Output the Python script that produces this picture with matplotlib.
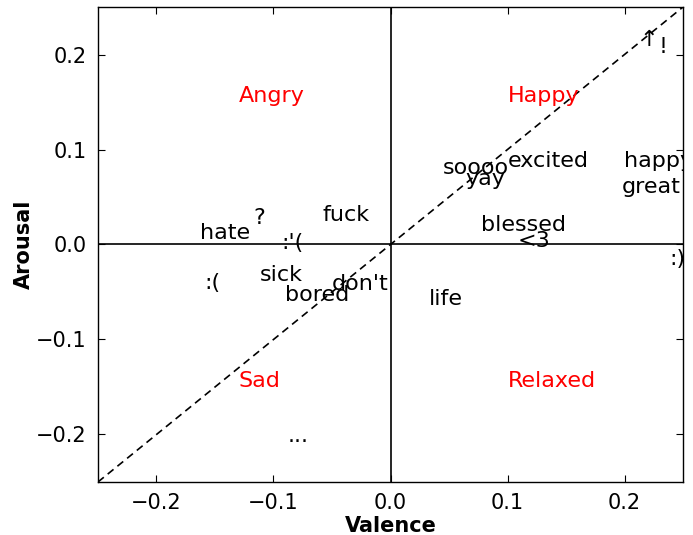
import matplotlib
matplotlib.use("Agg")
import matplotlib.pyplot as plt
import numpy as np

words = ["hate", "?", ":'(", "fuck", ":(", "sick", "bored", "don't", "life",
         "soooo", "yay", "excited", "happy", "great", "blessed", "<3", ":)",
         "\u2191", "!", "..."]
valence = [-0.141, -0.112, -0.084, -0.038, -0.152, -0.093, -0.063, -0.026, 0.047,
           0.073, 0.081, 0.135, 0.229, 0.223, 0.114, 0.123, 0.245,
           0.221, 0.233, -0.079]
arousal = [0.012, 0.028, 0.002, 0.031, -0.041, -0.032, -0.053, -0.042, -0.057,
           0.080, 0.069, 0.088, 0.088, 0.061, 0.021, 0.004, -0.015,
           0.215, 0.208, -0.202]

quad_labels = ["Angry", "Happy", "Sad", "Relaxed"]
quad_x = [-0.13, 0.10, -0.13, 0.10]
quad_y = [0.15, 0.15, -0.15, -0.15]

ticks = [-0.2, -0.1, 0.0, 0.1, 0.2]

fig = plt.figure(figsize=(6.93, 5.35), dpi=100)
ax = fig.add_axes([0.1414, 0.0991, 0.8442, 0.8878])
ax.set_xlim(-0.25, 0.25)
ax.set_ylim(-0.25, 0.25)

ax.axhline(0, color="black", lw=1.2)
ax.axvline(0, color="black", lw=1.2)
ax.plot([-0.25, 0.25], [-0.25, 0.25], color="black", ls="--", dashes=(4.5, 3), lw=1.2)

for w, x, y in zip(words, valence, arousal):
    ax.text(x, y, w, ha="center", va="center", fontsize=16, clip_on=True,
            family=["DejaVu Sans"])

for q, x, y in zip(quad_labels, quad_x, quad_y):
    ax.text(x, y, q, color="red", fontsize=16)

ax.set_xticks(ticks)
ax.set_yticks(ticks)
ax.tick_params(direction="in", top=True, right=True, labelsize=15, length=5, pad=8)
ax.set_xlabel("Valence", fontsize=15, fontweight="bold", labelpad=2)
ax.set_ylabel("Arousal", fontsize=15, fontweight="bold", labelpad=2)
for s in ax.spines.values():
    s.set_linewidth(1.0)

fig.savefig("out.png", dpi=100)
